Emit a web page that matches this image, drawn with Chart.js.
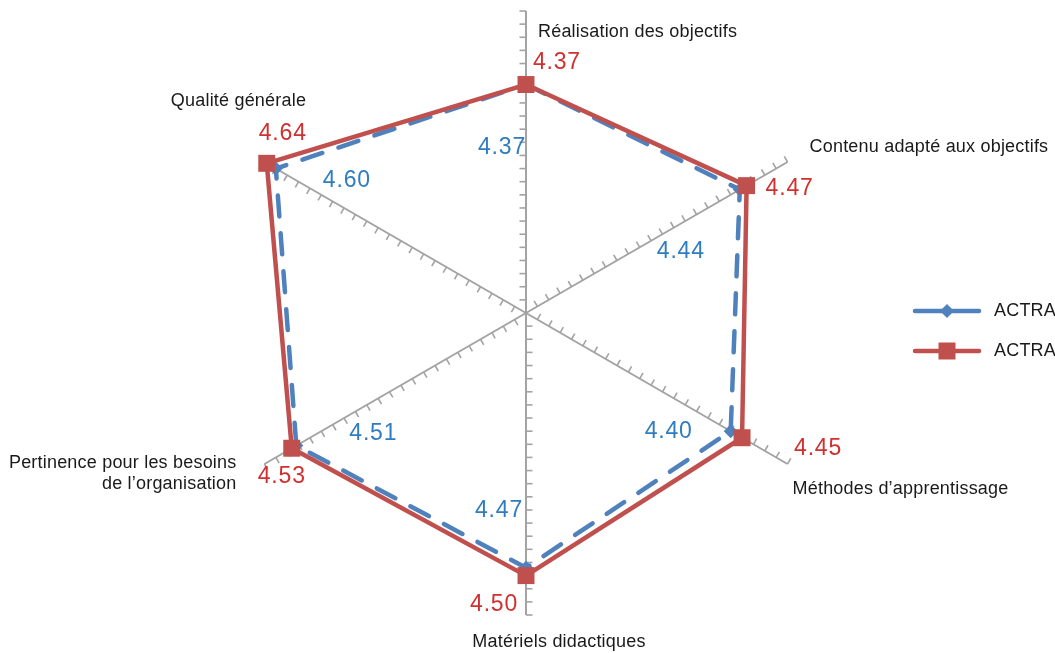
<!DOCTYPE html>
<html>
<head>
<meta charset="utf-8">
<script src="https://cdn.jsdelivr.net/npm/chart.js@4"></script>
<style>
  html, body { margin: 0; padding: 0; background: #ffffff; overflow: hidden; }
  #wrap { width: 1055px; height: 653px; position: relative; }
</style>
</head>
<body>
<div id="wrap"><canvas id="chart" width="1055" height="653"></canvas></div>
<script>
// Evaluation criteria (clockwise from the top)
const categories = [
  'Réalisation des objectifs',
  'Contenu adapté aux objectifs',
  'Méthodes d’apprentissage',
  'Matériels didactiques',
  ['Pertinence pour les besoins', 'de l’organisation'],
  'Qualité générale'
];

// Series names and average scores
const seriesNames = ['ACTRAV', 'ACTRAV'];
const seriesBlue = [4.37, 4.44, 4.40, 4.47, 4.51, 4.60];
const seriesRed = [4.37, 4.47, 4.45, 4.50, 4.53, 4.64];

// Radial value axis
const axisMin = 3.5;
const axisMax = 4.65;
const axisStep = 0.05;

const BLUE = '#4F81BD';
const RED = '#C0504D';
const BLUE_TEXT = '#2F7CC1';
const RED_TEXT = '#D0302F';
const AXIS_GREY = '#a3a3a3';
const TEXT_FONT = '"Liberation Sans", Arial, sans-serif';

// Placement of category names relative to the end of each spoke
const categoryPlacement = [
  { dx: 12, dy: 21, align: 'left' },
  { dx: 22, dy: -15, align: 'left' },
  { dx: 5, dy: 25, align: 'left' },
  { dx: 33, dy: 27, align: 'center' },
  { dx: -28, dy: -1, align: 'right' },
  { dx: -26, dy: -61, align: 'center' }
];

// Placement of value labels relative to each point
const bluePlacement = [
  { dx: -24, dy: 63, align: 'center' },
  { dx: -59, dy: 62, align: 'center' },
  { dx: -62, dy: 0, align: 'center' },
  { dx: -27, dy: -57, align: 'center' },
  { dx: 77, dy: -12, align: 'center' },
  { dx: 71, dy: 12, align: 'center' }
];
const redPlacement = [
  { dx: 7, dy: -22, align: 'left' },
  { dx: 19, dy: 3, align: 'left' },
  { dx: 52, dy: 11, align: 'left' },
  { dx: -8, dy: 29, align: 'right' },
  { dx: -10, dy: 28, align: 'center' },
  { dx: 16, dy: -30, align: 'center' }
];

// Small tick marks along every spoke
const spokeTicks = {
  id: 'spokeTicks',
  beforeDatasetsDraw(chart) {
    const r = chart.scales.r;
    const ctx = chart.ctx;
    const n = chart.data.labels.length;
    const count = Math.round((axisMax - axisMin) / axisStep);
    ctx.save();
    ctx.strokeStyle = AXIS_GREY;
    ctx.lineWidth = 1.6;
    for (let k = 1; k <= count; k++) {
      const d = r.getDistanceFromCenterForValue(axisMin + k * axisStep);
      for (let i = 0; i < n; i++) {
        const p = r.getPointPosition(i, d);
        const a = r.getIndexAngle(i) - Math.PI / 2;
        const ux = Math.cos(a), uy = Math.sin(a);
        ctx.beginPath();
        ctx.moveTo(p.x, p.y);
        ctx.lineTo(p.x + uy * 6.5, p.y - ux * 6.5);
        ctx.stroke();
      }
    }
    ctx.restore();
  }
};

// Category names and value labels
const textLayer = {
  id: 'textLayer',
  afterDatasetsDraw(chart) {
    const r = chart.scales.r;
    const ctx = chart.ctx;
    ctx.save();
    ctx.textBaseline = 'middle';

    ctx.font = '18px ' + TEXT_FONT;
    ctx.letterSpacing = '0.2px';
    ctx.fillStyle = '#1a1a1a';
    categories.forEach((label, i) => {
      const end = r.getPointPosition(i, r.drawingArea);
      const pl = categoryPlacement[i];
      const lines = Array.isArray(label) ? label : [label];
      ctx.textAlign = pl.align;
      lines.forEach((line, j) => {
        ctx.fillText(line, end.x + pl.dx, end.y + pl.dy + j * 21);
      });
    });

    ctx.font = '23px ' + TEXT_FONT;
    ctx.letterSpacing = '0.8px';
    const drawValues = (dsIndex, values, placement, color) => {
      const meta = chart.getDatasetMeta(dsIndex);
      ctx.fillStyle = color;
      values.forEach((v, i) => {
        const pt = meta.data[i];
        const pl = placement[i];
        ctx.textAlign = pl.align;
        ctx.fillText(v.toFixed(2), pt.x + pl.dx, pt.y + pl.dy);
      });
    };
    drawValues(0, seriesBlue, bluePlacement, BLUE_TEXT);
    drawValues(1, seriesRed, redPlacement, RED_TEXT);
    ctx.restore();
  }
};

// Legend with line-and-marker samples
const lineLegend = {
  id: 'lineLegend',
  afterDraw(chart) {
    const ctx = chart.ctx;
    const x0 = 915, x1 = 979, xm = 947, tx = 994;
    const rows = [
      { y: 311, color: BLUE, marker: 'diamond', name: seriesNames[0] },
      { y: 351, color: RED, marker: 'square', name: seriesNames[1] }
    ];
    ctx.save();
    rows.forEach(row => {
      ctx.strokeStyle = row.color;
      ctx.fillStyle = row.color;
      ctx.lineWidth = 4.5;
      ctx.lineCap = 'round';
      ctx.beginPath();
      ctx.moveTo(x0, row.y);
      ctx.lineTo(x1, row.y);
      ctx.stroke();
      ctx.beginPath();
      if (row.marker === 'diamond') {
        ctx.moveTo(xm, row.y - 7);
        ctx.lineTo(xm + 7, row.y);
        ctx.lineTo(xm, row.y + 7);
        ctx.lineTo(xm - 7, row.y);
        ctx.closePath();
      } else {
        ctx.rect(xm - 8.5, row.y - 8.5, 17, 17);
      }
      ctx.fill();
      ctx.fillStyle = '#1a1a1a';
      ctx.font = '18px ' + TEXT_FONT;
      ctx.letterSpacing = '0.2px';
      ctx.textAlign = 'left';
      ctx.textBaseline = 'middle';
      ctx.fillText(row.name, tx, row.y);
    });
    ctx.restore();
  }
};

new Chart(document.getElementById('chart'), {
  type: 'radar',
  data: {
    labels: categories,
    datasets: [
      {
        label: seriesNames[0],
        data: seriesBlue,
        borderColor: BLUE,
        backgroundColor: BLUE,
        fill: false,
        borderWidth: 4.5,
        borderDash: [21, 17],
        borderCapStyle: 'round',
        borderJoinStyle: 'round',
        pointStyle: 'rectRot',
        pointRadius: 7,
        pointBackgroundColor: BLUE,
        pointBorderColor: BLUE,
        pointBorderWidth: 0,
        order: 2
      },
      {
        label: seriesNames[1],
        data: seriesRed,
        borderColor: RED,
        backgroundColor: RED,
        fill: false,
        borderWidth: 4.5,
        borderJoinStyle: 'round',
        pointStyle: 'rect',
        pointRadius: 12,
        pointBackgroundColor: RED,
        pointBorderColor: RED,
        pointBorderWidth: 0,
        order: 1
      }
    ]
  },
  options: {
    responsive: false,
    animation: false,
    devicePixelRatio: 1,
    layout: { padding: { top: 11, bottom: 38, left: 0, right: 3 } },
    plugins: {
      legend: { display: false },
      tooltip: { enabled: false }
    },
    scales: {
      r: {
        min: axisMin,
        max: axisMax,
        beginAtZero: false,
        ticks: { display: false, stepSize: axisStep },
        grid: { display: false },
        angleLines: { display: true, color: AXIS_GREY, lineWidth: 2 },
        pointLabels: { display: false }
      }
    }
  },
  plugins: [spokeTicks, textLayer, lineLegend]
});
</script>
</body>
</html>
